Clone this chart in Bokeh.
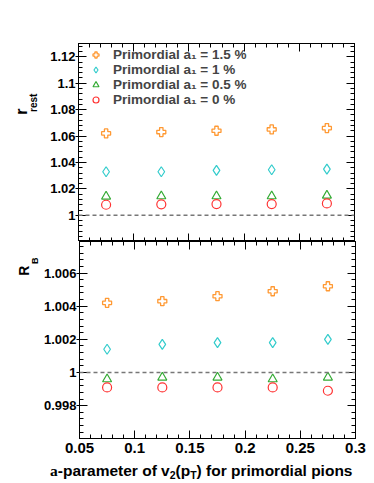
import math
from bokeh.plotting import figure
from bokeh.layouts import column, row
from bokeh.models import (Range1d, LinearAxis, SingleIntervalTicker, CustomJSTickFormatter,
                          Legend, LegendItem, Span, Label)
from bokeh.embed import file_html
from bokeh.resources import INLINE

# ---------------- data ----------------
a_param = [0.075, 0.125, 0.175, 0.225, 0.275]
r_rest_a1_15 = [1.062, 1.063, 1.064, 1.065, 1.066]
r_rest_a1_10 = [1.033, 1.033, 1.034, 1.0345, 1.035]
r_rest_a1_05 = [1.0143, 1.0145, 1.0145, 1.0145, 1.015]
r_rest_a1_00 = [1.008, 1.0083, 1.0085, 1.0085, 1.009]

R_B_a1_15 = [1.0042, 1.0043, 1.0046, 1.0049, 1.0052]
R_B_a1_10 = [1.0014, 1.0017, 1.0018, 1.0018, 1.0020]
R_B_a1_05 = [0.9996, 0.9997, 0.9997, 0.9996, 0.9997]
R_B_a1_00 = [0.9991, 0.9991, 0.9991, 0.9991, 0.9989]

legend_labels = ["Primordial a\u2081 = 1.5 %", "Primordial a\u2081 = 1 %",
                 "Primordial a\u2081 = 0.5 %", "Primordial a\u2081 = 0 %"]

X_RANGE = (0.05, 0.3000001)
TOP_Y = (0.9802, 1.13)
BOT_Y = (0.99602, 1.0079)

ORANGE = "#ff9933"
CYAN = "#33cccc"
GREEN = "#33aa33"
RED = "#ff3333"
FONT = "Liberation Sans"

# layout geometry (page pixels)
TW = 40            # width of the title column
PW = 332           # width of the plot figures
TOP_H = 241        # top figure height (43 border + 198 frame)
BOT_H = 221        # bottom figure height (197 frame + 24 border)
XT_H = 18          # x-title strip height

fmt = "return parseFloat(tick.toFixed(6)).toString();"


def style_axis(ax, labels=True, font_size="13px", out=0):
    ax.axis_label = None
    ax.major_tick_in = 8
    ax.major_tick_out = out
    ax.minor_tick_in = 4
    ax.minor_tick_out = 0
    ax.axis_line_color = "black"
    ax.major_tick_line_color = "black"
    ax.minor_tick_line_color = "black"
    if labels:
        ax.formatter = CustomJSTickFormatter(code=fmt)
        ax.major_label_text_font = FONT
        ax.major_label_text_font_style = "bold"
        ax.major_label_text_font_size = font_size
        ax.major_label_text_color = "black"
    else:
        ax.formatter = CustomJSTickFormatter(code="return '';")
        ax.major_label_text_font_size = "0px"
        ax.major_label_standoff = 0


def make_fig(height, frame_h, yr, border_top, border_bottom):
    p = figure(width=PW, height=height, frame_width=276, frame_height=frame_h,
               x_range=Range1d(*X_RANGE), y_range=Range1d(*yr),
               output_backend="svg", toolbar_location=None,
               min_border_left=38, min_border_right=18,
               min_border_top=border_top, min_border_bottom=border_bottom)
    p.xgrid.visible = False
    p.ygrid.visible = False
    p.outline_line_color = "black"
    p.outline_line_width = 1
    p.background_fill_color = "white"
    p.border_fill_color = "white"
    return p


def blank_fig(width, height, xr, yr):
    p = figure(width=width, height=height, x_range=Range1d(*xr), y_range=Range1d(*yr),
               output_backend="svg", toolbar_location=None,
               x_axis_location=None, y_axis_location=None, min_border=0)
    p.grid.visible = False
    p.outline_line_color = None
    p.background_fill_color = "white"
    p.border_fill_color = "white"
    return p


def lab(p, x, y, text, size, angle=0.0, align="left", font=FONT):
    p.add_layout(Label(x=x, y=y, text=text, angle=angle, text_align=align,
                       text_baseline="alphabetic", text_font=font,
                       text_font_style="bold", text_font_size=size, text_color="black"))


def add_points(p, ys):
    g15 = p.scatter(a_param, ys[0], marker="plus", size=9, fill_alpha=0,
                    line_color=ORANGE, line_width=1.3)
    g10 = p.scatter(a_param, ys[1], marker="diamond", size=10, fill_alpha=0,
                    line_color=CYAN, line_width=1.2)
    g05 = p.scatter(a_param, ys[2], marker="triangle", size=9, fill_alpha=0,
                    line_color=GREEN, line_width=1.2)
    g00 = p.scatter(a_param, ys[3], marker="circle", size=9, fill_alpha=0,
                    line_color=RED, line_width=1.2)
    return [g15, g10, g05, g00]


def finish_axes(p, y_interval, bottom_labels):
    xb = p.below[0]
    yl = p.left[0]
    xb.ticker = SingleIntervalTicker(interval=0.05, num_minor_ticks=5)
    yl.ticker = SingleIntervalTicker(interval=y_interval, num_minor_ticks=5)
    style_axis(yl, labels=True, font_size="13px", out=3)
    yl.major_label_standoff = 0
    if bottom_labels:
        style_axis(xb, labels=True, font_size="15px")
        xb.major_label_standoff = 4
    else:
        style_axis(xb, labels=False)
    ax = LinearAxis(ticker=SingleIntervalTicker(interval=0.05, num_minor_ticks=5))
    style_axis(ax, labels=False)
    p.add_layout(ax, "above")
    ay = LinearAxis(ticker=SingleIntervalTicker(interval=y_interval, num_minor_ticks=5))
    style_axis(ay, labels=False)
    p.add_layout(ay, "right")
    p.add_layout(Span(location=1.0, dimension="width", line_color="#777777",
                      line_dash="4 3", line_width=1.5))


# ---------------- top panel ----------------
p1 = make_fig(TOP_H, 198, TOP_Y, 43, 0)
finish_axes(p1, 0.02, bottom_labels=False)
gl = add_points(p1, [r_rest_a1_15, r_rest_a1_10, r_rest_a1_05, r_rest_a1_00])

legend = Legend(items=[LegendItem(label=legend_labels[i], renderers=[gl[i]]) for i in range(4)],
                location="top_left", margin=0, padding=4, spacing=0,
                glyph_width=27, glyph_height=15, label_height=15, label_standoff=4,
                label_text_font=FONT, label_text_font_style="bold",
                label_text_font_size="13.5px", label_text_baseline="middle",
                background_fill_alpha=0, border_line_alpha=0)
p1.add_layout(legend, "center")

# ---------------- bottom panel ----------------
p2 = make_fig(BOT_H, 197, BOT_Y, 0, 24)
finish_axes(p2, 0.002, bottom_labels=True)
add_points(p2, [R_B_a1_15, R_B_a1_10, R_B_a1_05, R_B_a1_00])

# ---------------- titles (blank strips, page-pixel coordinates) ----------------
t1 = blank_fig(TW, TOP_H, (0, TW), (TOP_H, 0))
lab(t1, 21, 79, "r", "16px", angle=math.pi / 2, align="right")
lab(t1, 33, 61, "rest", "10px", angle=math.pi / 2, align="right")

t2 = blank_fig(TW, BOT_H, (0, TW), (TOP_H + BOT_H, TOP_H))
lab(t2, 23, 268, "R", "14px", angle=math.pi / 2, align="right")
lab(t2, 34, 259, "B", "9px", angle=math.pi / 2, align="right")

XW = TW + PW
y0 = TOP_H + BOT_H
xt = blank_fig(XW, XT_H, (0, XW), (y0 + XT_H, y0))
W = {" ": 278, "(": 333, ")": 333, "-": 333, "a": 556, "c": 556, "d": 611, "e": 556,
     "f": 333, "i": 278, "l": 278, "m": 889, "n": 611, "o": 611, "p": 611, "r": 389,
     "s": 556, "t": 333, "v": 556, "2": 556, "T": 611}
MAIN, SUB = 15.5, 10.5
pieces = [("a", "Liberation Serif", MAIN, 0, 500),
          ("-parameter of v", FONT, MAIN, 0, None),
          ("2", FONT, SUB, 4, None),
          ("(p", FONT, MAIN, 0, None),
          ("T", FONT, SUB, 4, None),
          (") for primordial pions", FONT, MAIN, 0, None)]
widths = [((w if w is not None else sum(W[c] for c in t)) * sz / 1000.0)
          for t, f, sz, dy, w in pieces]
cur = 352 - sum(widths)
base = 470
for (t, f, sz, dy, w), wd in zip(pieces, widths):
    lab(xt, cur, base + dy, t, f"{sz}px", font=f)
    cur += wd

layout = column(row(t1, p1, spacing=0), row(t2, p2, spacing=0), xt, spacing=0)
open("out.html", "w").write(file_html(layout, INLINE))
